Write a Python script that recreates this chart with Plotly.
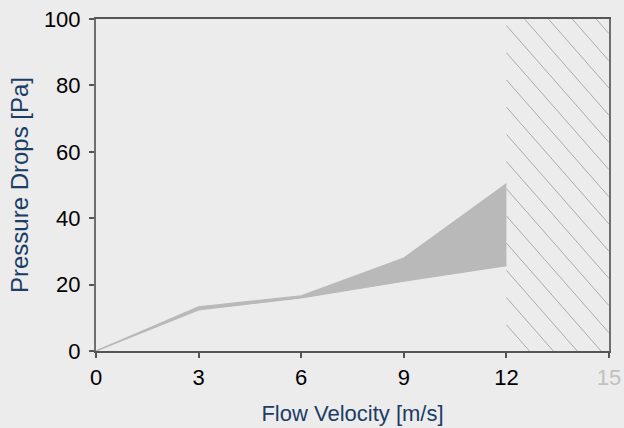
import plotly.graph_objects as go

# ---- data ----
velocity = [0, 3, 6, 9, 12]
pressure_low = [0, 12.4, 16.0, 21.0, 25.7]
pressure_high = [0, 13.3, 16.6, 28.0, 50.4]
x_ticks = [0, 3, 6, 9, 12, 15]
x_ticklabels = ["0", "3", "6", "9", "12", "15"]
y_ticks = [0, 20, 40, 60, 80, 100]
limit_x = 12
x_max = 15
y_max = 100

# ---- styling / geometry ----
W, H = 624, 428
ML, MR, MT, MB = 96, 15, 19, 77
pw, ph = W - ML - MR, H - MT - MB
sx, sy = pw / x_max, ph / y_max
hatch_slope_px = 1.14
hatch_first_px = 25.5 - MT       # first line intercept below top at left edge (px)
hatch_step_px = 27.2

m = -hatch_slope_px * sx / sy
c_first = y_max - hatch_first_px / sy
step = hatch_step_px / sy

hx, hy = [], []
c = c_first
while c + m * (x_max - limit_x) < y_max:
    c += step
c -= step
while c > 0:
    xa, ya = limit_x, c
    if ya > y_max:
        xa = limit_x + (y_max - c) / m
        ya = y_max
    xb = x_max
    yb = c + m * (x_max - limit_x)
    if yb < 0:
        xb = limit_x + (0 - c) / m
        yb = 0
    if xa < xb:
        hx += [xa, xb, None]
        hy += [ya, yb, None]
    c -= step

band_color = "#b9b9b9"
bg = "#ececec"

fig = go.Figure()
fig.add_trace(go.Scatter(x=hx, y=hy, mode="lines",
                         line=dict(color="#ababab", width=1),
                         hoverinfo="skip", showlegend=False))
fig.add_trace(go.Scatter(x=velocity, y=pressure_low, mode="lines",
                         line=dict(color=band_color, width=1.2),
                         showlegend=False))
fig.add_trace(go.Scatter(x=velocity, y=pressure_high, mode="lines",
                         fill="tonexty", fillcolor=band_color,
                         line=dict(color=band_color, width=1.2),
                         showlegend=False))

ticktext = [t if v != x_max else f"<span style='color:#c0c0c0'>{t}</span>"
            for v, t in zip(x_ticks, x_ticklabels)]

font_family = "Liberation Sans, Arial, sans-serif"
fig.update_layout(
    width=W, height=H,
    margin=dict(l=ML, r=MR, t=MT, b=MB),
    paper_bgcolor=bg, plot_bgcolor=bg,
    font=dict(family=font_family, size=22, color="#000000"),
    xaxis=dict(range=[0, x_max], tickvals=x_ticks, ticktext=ticktext,
               automargin=False,
               showgrid=False, zeroline=False,
               showline=True, linecolor="#555555", linewidth=1.5, mirror=True,
               ticks="outside", ticklen=5, tickcolor="#555555", tickwidth=1.5,
               ticklabelstandoff=1,
               title=dict(text="Flow Velocity [m/s]", standoff=16,
                          font=dict(size=22, color="#1b3d66"))),
    yaxis=dict(range=[0, y_max], tickvals=y_ticks,
               automargin=False,
               showgrid=False, zeroline=False,
               showline=True, linecolor="#6e6e6e", linewidth=2, mirror=True,
               ticks="outside", ticklen=5, tickcolor="#555555", tickwidth=1.5,
               ticklabelstandoff=4,
               title=dict(text="Pressure Drops [Pa]", standoff=8,
                          font=dict(size=24, color="#1b3d66"))),
)

fig.write_html("out.html", config={"displayModeBar": False},
               post_script="document.body.style.margin='0';document.documentElement.style.margin='0';")
